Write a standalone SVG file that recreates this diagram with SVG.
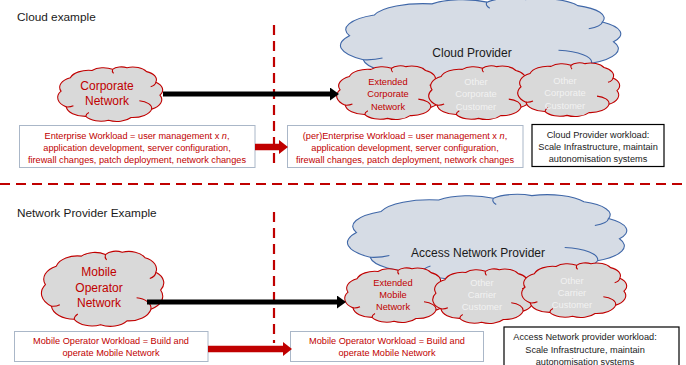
<svg xmlns="http://www.w3.org/2000/svg" xmlns:xlink="http://www.w3.org/1999/xlink" width="686" height="365" viewBox="0 0 686 365">
<style>
text{font-family:"Liberation Sans",Arial,sans-serif}
.t{font-size:11.8px;fill:#1a1a1a}
.red{fill:#c00000}
.wht{fill:#f2f2f2}
.blk{fill:#1a1a1a}
.cl{font-size:12px;text-anchor:middle}
.sm{font-size:9.3px;text-anchor:middle}
.bx{font-size:9.2px;text-anchor:middle}
.rc{fill:#d9d9d9;stroke:#c00000}
.bc{fill:#d6dce5;stroke:#3f67a8}
.rcurl{fill:none;stroke:#c00000}
.bcurl{fill:none;stroke:#3f67a8}
.rbox{fill:#fff;stroke:#aab7c8;stroke-width:1}
.kbox{fill:#fff;stroke:#000;stroke-width:1.2}
.dash{stroke:#c00000;stroke-width:2.2;stroke-dasharray:10 6;fill:none}
.ka{stroke:#000;stroke-width:5;fill:none}
.ra{stroke:#c00000;stroke-width:6.5;fill:none}
</style>
<defs>
<path id="cloud" vector-effect="non-scaling-stroke" stroke-width="1.1" d="M 2,45 A 19 19 0 0 1 11,21 A 18.5 18.5 0 0 1 32,8 A 15 15 0 0 1 52,6 A 10.5 10.5 0 0 1 66,3 A 15 15 0 0 1 85,10 A 16 16 0 0 1 94,29 A 17.5 17.5 0 0 1 98,52 A 19.5 19.5 0 0 1 90,77 A 19 19 0 0 1 70,92 A 17 17 0 0 1 48,97 A 17 17 0 0 1 26,90 A 19 19 0 0 1 7,73 A 21 21 0 0 1 2,45 Z"/>
<path id="curls" vector-effect="non-scaling-stroke" stroke-width="1.1" d="M 78,62 A 14 14 0 0 1 90,77 M 26,90 A 10 10 0 0 1 29,83 M 94,29 A 10 10 0 0 1 89,37 M 7,73 A 9 9 0 0 0 14,71 M 52,6 A 10 10 0 0 0 53,13"/>
<marker id="kh" markerUnits="userSpaceOnUse" markerWidth="9" markerHeight="13" refX="0" refY="6.5" orient="auto"><path d="M0,0 L9,6.5 L0,13 Z" fill="#000"/></marker>
<marker id="rh" markerUnits="userSpaceOnUse" markerWidth="9" markerHeight="14" refX="0" refY="7" orient="auto"><path d="M0,0 L9,7 L0,14 Z" fill="#c00000"/></marker>
</defs>

<g id="separators">
<line class="dash" x1="274" y1="25" x2="274" y2="163"/>
<line class="dash" x1="0" y1="184" x2="686" y2="184"/>
<line class="dash" x1="274" y1="212" x2="274" y2="343"/>
</g>

<text id="title-cloud" class="t" x="17" y="21">Cloud example</text>
<text id="title-network" class="t" x="17" y="217">Network Provider Example</text>

<!-- Top section -->
<g id="cloud-provider">
<use xlink:href="#cloud" class="bc" transform="translate(344,-3) scale(2.75,0.86)"/>
<use xlink:href="#curls" class="bcurl" transform="translate(344,-3) scale(2.75,0.86)"/>
<text class="cl blk" x="472" y="57">Cloud Provider</text>
</g>
<g id="corporate-network">
<use xlink:href="#cloud" class="rc" transform="translate(59,66) scale(1.03,0.56)"/>
<use xlink:href="#curls" class="rcurl" transform="translate(59,66) scale(1.03,0.56)"/>
<text class="cl red" x="107" y="90">Corporate</text>
<text class="cl red" x="107" y="105">Network</text>
</g>
<g id="extended-corporate-network">
<use xlink:href="#cloud" class="rc" transform="translate(338,65) scale(1.03,0.55)"/>
<use xlink:href="#curls" class="rcurl" transform="translate(338,65) scale(1.03,0.55)"/>
<text class="sm red" x="388" y="84.5">Extended</text>
<text class="sm red" x="388" y="97">Corporate</text>
<text class="sm red" x="388" y="109.5">Network</text>
</g>
<g id="other-corporate-customer-1">
<use xlink:href="#cloud" class="rc" transform="translate(430,65) scale(1.01,0.55)"/>
<use xlink:href="#curls" class="rcurl" transform="translate(430,65) scale(1.01,0.55)"/>
<text class="sm wht" x="476" y="84.5">Other</text>
<text class="sm wht" x="476" y="97">Corporate</text>
<text class="sm wht" x="476" y="109.5">Customer</text>
</g>
<g id="other-corporate-customer-2">
<use xlink:href="#cloud" class="rc" transform="translate(519,62) scale(1.0,0.55)"/>
<use xlink:href="#curls" class="rcurl" transform="translate(519,62) scale(1.0,0.55)"/>
<text class="sm wht" x="565" y="83.5">Other</text>
<text class="sm wht" x="565" y="96">Corporate</text>
<text class="sm wht" x="565" y="108.5">Customer</text>
</g>
<g id="enterprise-workload">
<rect class="rbox" x="19.5" y="125.5" width="235.5" height="42"/>
<text class="bx red" x="137" y="138.5">Enterprise Workload = user management x <tspan font-style="italic">n</tspan>,</text>
<text class="bx red" x="137" y="150.5">application development, server configuration,</text>
<text class="bx red" x="137" y="162.5">firewall changes, patch deployment, network changes</text>
</g>
<g id="per-enterprise-workload">
<rect class="rbox" x="287.5" y="125.5" width="235.5" height="42"/>
<text class="bx red" x="405" y="138.5">(per)Enterprise Workload = user management x <tspan font-style="italic">n</tspan>,</text>
<text class="bx red" x="405" y="150.5">application development, server configuration,</text>
<text class="bx red" x="405" y="162.5">firewall changes, patch deployment, network changes</text>
</g>
<g id="cloud-provider-workload">
<rect class="kbox" x="532" y="124.5" width="132" height="42"/>
<text class="bx blk" x="598" y="137.5">Cloud Provider workload:</text>
<text class="bx blk" x="598" y="149.5">Scale Infrastructure, maintain</text>
<text class="bx blk" x="598" y="162">autonomisation systems</text>
</g>

<!-- Bottom section -->
<g id="access-network-provider">
<use xlink:href="#cloud" class="bc" transform="translate(351,193) scale(2.74,0.88)"/>
<use xlink:href="#curls" class="bcurl" transform="translate(351,193) scale(2.74,0.88)"/>
<text class="cl blk" x="478" y="257" font-size="11.8">Access Network Provider</text>
</g>
<g id="mobile-operator-network">
<use xlink:href="#cloud" class="rc" transform="translate(43,250) scale(1.2,0.77)"/>
<use xlink:href="#curls" class="rcurl" transform="translate(43,250) scale(1.2,0.77)"/>
<text class="cl red" x="99" y="276">Mobile</text>
<text class="cl red" x="99" y="291.5">Operator</text>
<text class="cl red" x="99" y="307">Network</text>
</g>
<g id="extended-mobile-network">
<use xlink:href="#cloud" class="rc" transform="translate(346,267) scale(1.0,0.56)"/>
<use xlink:href="#curls" class="rcurl" transform="translate(346,267) scale(1.0,0.56)"/>
<text class="sm red" x="393" y="285.5">Extended</text>
<text class="sm red" x="393" y="297.5">Mobile</text>
<text class="sm red" x="393" y="309.5">Network</text>
</g>
<g id="other-carrier-customer-1">
<use xlink:href="#cloud" class="rc" transform="translate(434,268) scale(0.99,0.56)"/>
<use xlink:href="#curls" class="rcurl" transform="translate(434,268) scale(0.99,0.56)"/>
<text class="sm wht" x="482" y="285.5">Other</text>
<text class="sm wht" x="482" y="297.5">Carrier</text>
<text class="sm wht" x="482" y="309.5">Customer</text>
</g>
<g id="other-carrier-customer-2">
<use xlink:href="#cloud" class="rc" transform="translate(523,262) scale(1.03,0.56)"/>
<use xlink:href="#curls" class="rcurl" transform="translate(523,262) scale(1.03,0.56)"/>
<text class="sm wht" x="572" y="283.5">Other</text>
<text class="sm wht" x="572" y="295.5">Carrier</text>
<text class="sm wht" x="572" y="307.5">Customer</text>
</g>
<g id="mobile-operator-workload">
<rect class="rbox" x="14.5" y="331.5" width="193.5" height="30"/>
<text class="bx red" x="111" y="343.5">Mobile Operator Workload = Build and</text>
<text class="bx red" x="111" y="355.5">operate Mobile Network</text>
</g>
<g id="mobile-operator-workload-2">
<rect class="rbox" x="290.5" y="331.5" width="193" height="30"/>
<text class="bx red" x="387" y="343.5">Mobile Operator Workload = Build and</text>
<text class="bx red" x="387" y="355.5">operate Mobile Network</text>
</g>
<g id="access-network-provider-workload">
<rect class="kbox" x="504" y="327" width="175" height="45"/>
<text class="bx blk" x="585" y="340">Access Network provider workload:</text>
<text class="bx blk" x="585" y="352.5">Scale Infrastructure, maintain</text>
<text class="bx blk" x="585" y="364.5">autonomisation systems</text>
</g>

<g id="connectors">
<line class="ka" x1="163" y1="94" x2="330" y2="94" marker-end="url(#kh)"/>
<line class="ra" x1="255" y1="147" x2="279" y2="147" marker-end="url(#rh)"/>
<line class="ka" x1="147" y1="302" x2="337" y2="302" marker-end="url(#kh)"/>
<line class="ra" x1="208" y1="349" x2="283" y2="349" marker-end="url(#rh)"/>
</g>
</svg>
